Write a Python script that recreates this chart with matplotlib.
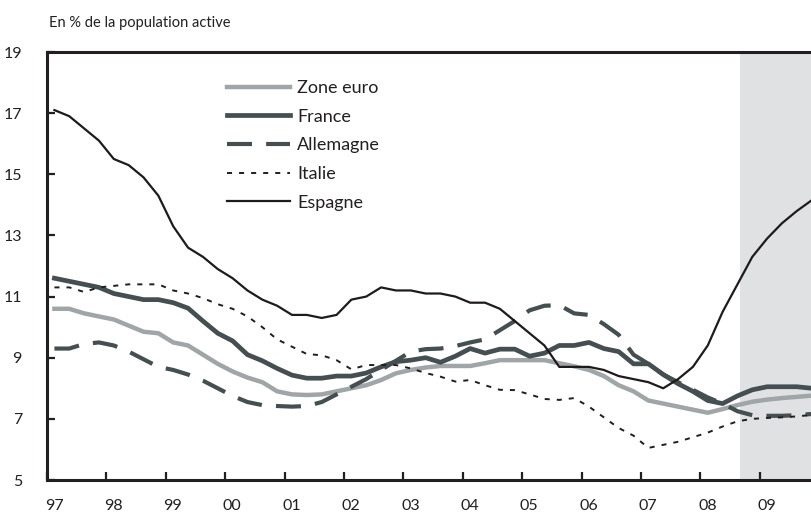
import numpy as np
import matplotlib
matplotlib.use("Agg")
import matplotlib.pyplot as plt
import matplotlib.transforms as mtransforms

# Quarterly data, points at mid-quarter, 1997Q1 .. 2009Q4
start_year = 1997
n_quarters = 52
quarters = start_year + 0.125 + np.arange(n_quarters) / 4.0

zone_euro = [10.6, 10.6, 10.45, 10.35, 10.25, 10.05, 9.85, 9.8, 9.5, 9.4, 9.1, 8.8,
             8.55, 8.35, 8.2, 7.9, 7.8, 7.78, 7.8, 7.9, 8.0, 8.1, 8.27, 8.49,
             8.6, 8.68, 8.73, 8.73, 8.73, 8.82, 8.92, 8.92, 8.92, 8.92, 8.82, 8.72,
             8.6, 8.4, 8.1, 7.9, 7.6, 7.5, 7.4, 7.3, 7.2, 7.32, 7.45, 7.56,
             7.63, 7.68, 7.72, 7.76]
france = [11.6, 11.5, 11.4, 11.3, 11.1, 11.0, 10.9, 10.9, 10.8, 10.62, 10.2, 9.8,
          9.55, 9.1, 8.9, 8.65, 8.43, 8.33, 8.33, 8.4, 8.4, 8.5, 8.7, 8.87,
          8.92, 9.0, 8.85, 9.05, 9.3, 9.15, 9.28, 9.28, 9.05, 9.15, 9.4, 9.4,
          9.5, 9.3, 9.2, 8.8, 8.8, 8.45, 8.15, 7.9, 7.6, 7.5, 7.75, 7.95,
          8.05, 8.05, 8.05, 8.0]
allemagne = [9.3, 9.3, 9.45, 9.5, 9.4, 9.2, 8.95, 8.7, 8.6, 8.45, 8.25, 8.0,
             7.75, 7.55, 7.45, 7.42, 7.4, 7.42, 7.55, 7.8, 8.05, 8.3, 8.6, 8.9,
             9.2, 9.28, 9.3, 9.38, 9.5, 9.6, 9.9, 10.2, 10.55, 10.7, 10.72, 10.45,
             10.4, 10.1, 9.75, 9.1, 8.8, 8.45, 8.2, 7.95, 7.7, 7.5, 7.25, 7.12,
             7.1, 7.1, 7.12, 7.16]
italie = [11.3, 11.3, 11.15, 11.3, 11.35, 11.4, 11.4, 11.4, 11.2, 11.1, 10.95, 10.75,
          10.6, 10.35, 10.0, 9.6, 9.36, 9.12, 9.08, 8.92, 8.62, 8.76, 8.76, 8.76,
          8.65, 8.5, 8.38, 8.22, 8.27, 8.1, 7.95, 7.94, 7.8, 7.65, 7.62, 7.68,
          7.4, 7.05, 6.7, 6.45, 6.05, 6.15, 6.25, 6.4, 6.55, 6.75, 6.92, 7.0,
          7.03, 7.05, 7.08, 7.13]
espagne = [17.1, 16.9, 16.5, 16.1, 15.5, 15.3, 14.9, 14.3, 13.3, 12.6, 12.3, 11.9,
           11.6, 11.2, 10.9, 10.7, 10.4, 10.4, 10.3, 10.4, 10.9, 11.0, 11.3, 11.2,
           11.2, 11.1, 11.1, 11.0, 10.8, 10.8, 10.6, 10.2, 9.8, 9.4, 8.7, 8.7,
           8.7, 8.6, 8.4, 8.3, 8.2, 8.0, 8.3, 8.7, 9.4, 10.5, 11.4, 12.3,
           12.9, 13.4, 13.8, 14.15]

series_labels = ["Zone euro", "France", "Allemagne", "Italie", "Espagne"]
year_ticks = list(range(1997, 2010))
year_labels = ["97", "98", "99", "00", "01", "02", "03", "04", "05", "06", "07", "08", "09"]
y_ticks = [5, 7, 9, 11, 13, 15, 17, 19]
forecast_start = 2008.67
title = "En % de la population active"

plt.rcParams['font.family'] = ['Lato', 'DejaVu Sans']

fig = plt.figure(figsize=(8.12, 5.2), dpi=100)
ax = fig.add_axes([47 / 812, 1 - 480 / 520, 1 - 47 / 812, (480 - 52) / 520])

x_end = quarters[-1] + 0.005
ax.axvspan(forecast_start, x_end + 1, color="#e0e1e3", lw=0, zorder=0)

dark = "#454e50"
ax.plot(quarters, zone_euro, color="#a0a5a8", lw=3.2, label=series_labels[0],
        solid_joinstyle="round", zorder=2)
l_de, = ax.plot(quarters, allemagne, color=dark, lw=3.0, label=series_labels[2], zorder=3)
l_de.set_dashes((6.0, 3.4))
ax.plot(quarters, france, color=dark, lw=3.4, label=series_labels[1], zorder=4)
l_it, = ax.plot(quarters, italie, color="#1f1f1f", lw=1.4, label=series_labels[3], zorder=5)
l_it.set_dashes((2.6, 3.6))
ax.plot(quarters, espagne, color="#1f1a1b", lw=1.6, label=series_labels[4], zorder=6)

ax.set_xlim(start_year, x_end)
ax.set_ylim(5, 19)

for side in ["left", "bottom", "top"]:
    ax.spines[side].set_linewidth(2.2)
    ax.spines[side].set_color("#231f20")
    ax.spines[side].set_zorder(10)
ax.spines["right"].set_visible(False)

ax.set_yticks(y_ticks)
ax.set_yticklabels([str(v) for v in y_ticks])
ax.set_xticks(year_ticks)
ax.set_xticklabels(year_labels)
ax.tick_params(axis="both", direction="in", width=1.6, color="#231f20",
               labelsize=11.5, labelcolor="#231f20")
ax.tick_params(axis="y", length=6, pad=18)
ax.tick_params(axis="x", length=6, pad=14)
offset = mtransforms.ScaledTranslation(7 / 100, 0, fig.dpi_scale_trans)
for lab in ax.get_xticklabels():
    lab.set_transform(lab.get_transform() + offset)

fig.text(49 / 812, 1 - 23 / 520, title, fontsize=10.5, color="#231f20",
         ha="left", va="center")

h, l = ax.get_legend_handles_labels()
order = [l.index(s) for s in series_labels]
leg = ax.legend([h[i] for i in order], [l[i] for i in order],
                loc="upper left", bbox_to_anchor=((227 - 47) / 765, 1 - (80 - 52) / 428),
                frameon=False, fontsize=13, handlelength=3.5,
                handletextpad=0.4, labelspacing=0.7, borderaxespad=0,
                borderpad=0)
for t in leg.get_texts():
    t.set_color("#231f20")

fig.savefig("out.png", dpi=100)
